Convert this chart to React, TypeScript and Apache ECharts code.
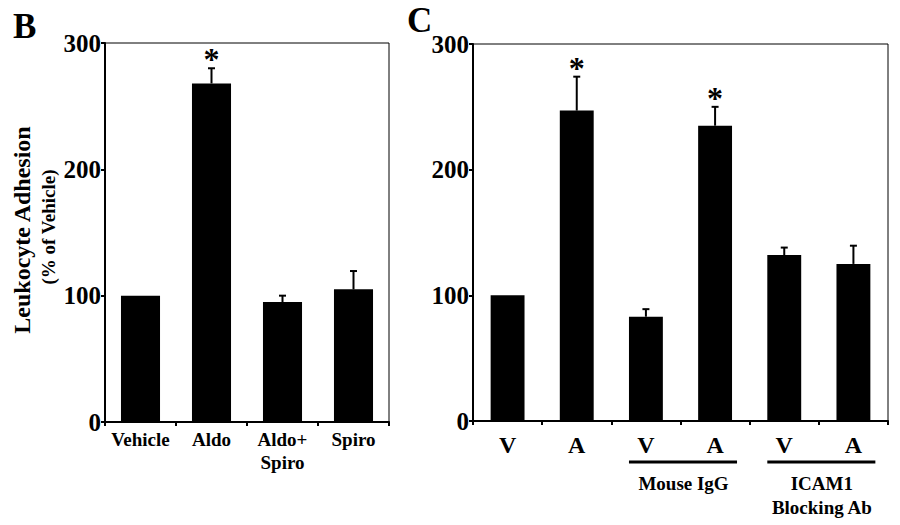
import React, { useEffect, useRef } from "react";
import * as echarts from "echarts";

const catsB = ["Vehicle", "Aldo", "Aldo+\nSpiro", "Spiro"];
const valsB = [100, 268, 95, 105];
const errB = [0, 12, 5, 14.5];
const sigB = [0, 1, 0, 0];

const catsC = ["V", "A", "V", "A", "V", "A"];
const valsC = [100, 247, 83, 235, 132, 125];
const errC = [0, 27, 6, 15, 6, 14.5];
const sigC = [0, 1, 0, 1, 0, 0];

const groupsC = [
  { from: 2, to: 3, label: "Mouse IgG" },
  { from: 4, to: 5, label: "ICAM1\nBlocking Ab" },
];

const yMin = 0;
const yMax = 300;
const yStep = 100;

const FONT = '"Liberation Serif", "Times New Roman", serif';

function errRender(params: any, api: any) {
  const x = api.value(0);
  const v = api.value(1);
  const e = api.value(2);
  const s = api.value(3);
  const base = api.coord([x, v]);
  const top = api.coord([x, v + e]);
  const children: any[] = [];
  if (e > 0) {
    children.push({
      type: "line",
      shape: { x1: base[0], y1: base[1], x2: top[0], y2: top[1] },
      style: { stroke: "#000", lineWidth: 2 },
    });
    children.push({
      type: "line",
      shape: { x1: top[0] - 3.5, y1: top[1], x2: top[0] + 3.5, y2: top[1] },
      style: { stroke: "#000", lineWidth: 2 },
    });
  }
  if (s) {
    children.push({
      type: "text",
      style: {
        text: "*",
        x: top[0],
        y: top[1] + 7,
        textAlign: "center",
        textVerticalAlign: "bottom",
        font: `bold 32px ${FONT}`,
        fill: "#000",
      },
    });
  }
  return { type: "group", children };
}

function groupRender(params: any, api: any) {
  const g = groupsC[params.dataIndex];
  const p1 = api.coord([api.value(0), 0]);
  const p2 = api.coord([api.value(1), 0]);
  const bw = api.size([1, 0])[0];
  const half = bw * 0.245;
  return {
    type: "group",
    children: [
      {
        type: "line",
        shape: { x1: p1[0] - half, y1: p1[1] + 41, x2: p2[0] + half + 5, y2: p1[1] + 41 },
        style: { stroke: "#000", lineWidth: 3 },
      },
      {
        type: "text",
        style: {
          text: g.label,
          x: (p1[0] + p2[0]) / 2 + 3,
          y: p1[1] + 50,
          textAlign: "center",
          textVerticalAlign: "top",
          font: `bold 19px ${FONT}`,
          lineHeight: 24,
          fill: "#000",
        },
      },
    ],
  };
}

function yAxisOpt(gridIndex: number) {
  return {
    type: "value",
    gridIndex,
    min: yMin,
    max: yMax,
    interval: yStep,
    axisLine: { show: true, lineStyle: { color: "#000", width: 2 } },
    axisTick: { show: true, length: 4, lineStyle: { color: "#000", width: 2 } },
    axisLabel: {
      color: "#000",
      fontFamily: FONT,
      fontWeight: "bold",
      fontSize: 25,
      margin: 4,
    },
    splitLine: { show: false },
  };
}

export default function App() {
  const ref = useRef<HTMLDivElement>(null);
  useEffect(() => {
    if (!ref.current) return;
    const chart = echarts.init(ref.current, undefined, { renderer: "svg" });
    chart.setOption({
      animation: false,
      backgroundColor: "#fff",
      grid: [
        { left: 105, right: 511, top: 43, bottom: 103, show: true, borderColor: "#000", borderWidth: 1 },
        { left: 473, right: 12, top: 44, bottom: 104, show: true, borderColor: "#000", borderWidth: 1 },
      ],
      xAxis: [
        {
          type: "category",
          gridIndex: 0,
          data: catsB,
          axisLine: { lineStyle: { color: "#000", width: 2 } },
          axisTick: { show: true, length: 4, lineStyle: { color: "#000", width: 2 } },
          axisLabel: {
            color: "#000",
            fontFamily: FONT,
            fontWeight: "bold",
            fontSize: 19,
            lineHeight: 23,
            margin: 6,
            interval: 0,
          },
        },
        {
          type: "category",
          gridIndex: 1,
          data: catsC,
          axisLine: { lineStyle: { color: "#000", width: 2 } },
          axisTick: { show: true, length: 4, lineStyle: { color: "#000", width: 2 } },
          axisLabel: {
            color: "#000",
            fontFamily: FONT,
            fontWeight: "bold",
            fontSize: 24,
            margin: 12,
            interval: 0,
          },
        },
      ],
      yAxis: [yAxisOpt(0), yAxisOpt(1)],
      graphic: [
        {
          type: "text",
          left: 13,
          top: 9,
          style: { text: "B", font: `bold 35px ${FONT}`, fill: "#000" },
        },
        {
          type: "text",
          left: 407,
          top: 3,
          style: { text: "C", font: `bold 35px ${FONT}`, fill: "#000" },
        },
        {
          type: "text",
          x: 22,
          y: 230,
          rotation: Math.PI / 2,
          style: {
            text: "Leukocyte Adhesion",
            font: `bold 24px ${FONT}`,
            fill: "#000",
            textAlign: "center",
            textVerticalAlign: "middle",
          },
        },
        {
          type: "text",
          x: 48,
          y: 227,
          rotation: Math.PI / 2,
          style: {
            text: "(% of Vehicle)",
            font: `bold 19px ${FONT}`,
            fill: "#000",
            textAlign: "center",
            textVerticalAlign: "middle",
          },
        },
      ],
      series: [
        {
          type: "bar",
          xAxisIndex: 0,
          yAxisIndex: 0,
          data: valsB,
          barWidth: "55%",
          itemStyle: { color: "#000" },
        },
        {
          type: "custom",
          xAxisIndex: 0,
          yAxisIndex: 0,
          clip: false,
          renderItem: errRender,
          data: valsB.map((v, i) => [i, v, errB[i], sigB[i]]),
          z: 3,
        },
        {
          type: "bar",
          xAxisIndex: 1,
          yAxisIndex: 1,
          data: valsC,
          barWidth: "49%",
          itemStyle: { color: "#000" },
        },
        {
          type: "custom",
          xAxisIndex: 1,
          yAxisIndex: 1,
          clip: false,
          renderItem: errRender,
          data: valsC.map((v, i) => [i, v, errC[i], sigC[i]]),
          z: 3,
        },
        {
          type: "custom",
          xAxisIndex: 1,
          yAxisIndex: 1,
          clip: false,
          renderItem: groupRender,
          data: groupsC.map((g) => [g.from, g.to]),
          z: 3,
        },
      ],
    });
    return () => chart.dispose();
  }, []);
  return (
    <div
      ref={ref}
      style={{ position: "fixed", left: 0, top: 0, width: 900, height: 525 }}
    />
  );
}
